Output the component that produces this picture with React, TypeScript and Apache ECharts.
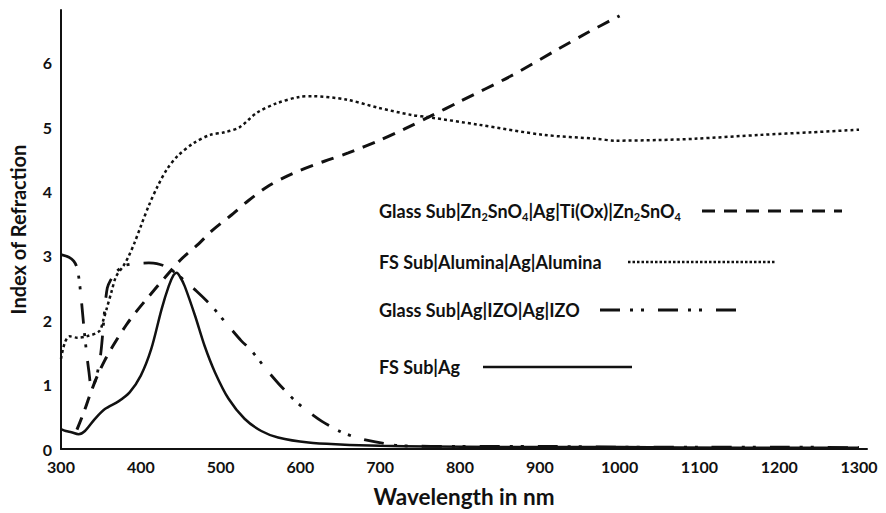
import React, { useEffect, useRef } from "react";
import * as echarts from "echarts";

const xTicks = [300, 400, 500, 600, 700, 800, 900, 1000, 1100, 1200, 1300];
const yTicks = [0, 1, 2, 3, 4, 5, 6];

const legendLabels = [
  "Glass Sub|Zn{s|2}SnO{s|4}|Ag|Ti(Ox)|Zn{s|2}SnO{s|4}",
  "FS Sub|Alumina|Ag|Alumina",
  "Glass Sub|Ag|IZO|Ag|IZO",
  "FS Sub|Ag",
];

const znsWl = [320, 328, 336, 345, 355, 365, 382, 394, 410, 430, 450, 471, 490, 512, 535, 558, 580, 600, 630, 660, 700, 730, 763, 800, 863, 924, 960, 1000];
const znsVal = [0.30, 0.55, 0.83, 1.12, 1.38, 1.60, 1.93, 2.13, 2.37, 2.66, 2.94, 3.17, 3.40, 3.62, 3.86, 4.07, 4.22, 4.33, 4.47, 4.60, 4.80, 4.97, 5.17, 5.40, 5.79, 6.22, 6.47, 6.73];

const aluWl = [300, 305, 311, 320, 332, 348, 353, 357, 363, 369, 378, 385, 392, 400, 410, 421, 433, 446, 466, 487, 505, 524, 545, 570, 599, 615, 657, 698, 739, 763, 822, 905, 970, 995, 1050, 1094, 1177, 1240, 1300];
const aluVal = [1.40, 1.66, 1.75, 1.73, 1.75, 1.83, 2.00, 2.17, 2.43, 2.68, 2.84, 3.00, 3.20, 3.46, 3.78, 4.08, 4.35, 4.55, 4.75, 4.88, 4.92, 5.00, 5.22, 5.37, 5.47, 5.48, 5.43, 5.30, 5.19, 5.15, 5.04, 4.88, 4.82, 4.79, 4.80, 4.82, 4.88, 4.92, 4.96];

const izoWl = [300, 310, 316, 320, 323, 326, 329, 332, 335, 338, 341, 345, 350, 355, 358, 362, 370, 380, 395, 410, 420, 432, 445, 458, 470, 489, 499, 510, 526, 537, 547, 557, 573, 583, 595, 609, 627, 652, 675, 694, 726, 800, 900, 1000, 1100, 1200, 1300];
const izoVal = [3.02, 2.98, 2.92, 2.82, 2.60, 2.25, 1.85, 1.50, 1.20, 0.98, 1.00, 1.15, 1.50, 2.20, 2.50, 2.62, 2.76, 2.85, 2.88, 2.89, 2.88, 2.83, 2.72, 2.58, 2.45, 2.22, 2.07, 1.91, 1.68, 1.55, 1.40, 1.24, 1.01, 0.88, 0.73, 0.59, 0.43, 0.26, 0.16, 0.11, 0.05, 0.04, 0.04, 0.03, 0.03, 0.03, 0.02];

const agWl = [300, 306, 313, 322, 330, 342, 355, 372, 386, 400, 413, 426, 435, 441, 445, 449, 455, 468, 480, 493, 510, 530, 551, 572, 610, 650, 700, 760, 850, 1000, 1150, 1300];
const agVal = [0.31, 0.28, 0.26, 0.23, 0.28, 0.46, 0.62, 0.74, 0.88, 1.14, 1.55, 2.17, 2.53, 2.70, 2.74, 2.68, 2.53, 2.07, 1.60, 1.19, 0.78, 0.47, 0.28, 0.18, 0.10, 0.07, 0.05, 0.04, 0.03, 0.03, 0.02, 0.02];

const zip = (a: number[], b: number[]) => a.map((x, i) => [x, b[i]]);

const FONT = "Lato, 'Open Sans', sans-serif";
const INK = "#111";

const dashZns = [13, 9];
const dashAlu = [3, 3];
const dashIzo = [20, 10, 3, 8, 3, 14];

export default function App() {
  const ref = useRef<HTMLDivElement>(null);
  useEffect(() => {
    if (!ref.current) return;
    const chart = echarts.init(ref.current, undefined, { renderer: "svg" });
    const lineSeries = (name: string, data: number[][], type: any, width: number) => ({
      name,
      type: "line",
      data,
      smooth: 0.3,
      showSymbol: false,
      symbol: "none",
      lineStyle: { color: INK, width, type, cap: "butt" },
    });
    const legendRows = [
      { y: 211, x1: 702, x2: 842, dash: dashZns, w: 3 },
      { y: 262, x1: 628, x2: 775, dash: [2.5, 2], w: 2.5 },
      { y: 310, x1: 600, x2: 740, dash: dashIzo, w: 3 },
      { y: 367, x1: 483, x2: 632, dash: null, w: 2.5 },
    ];
    const graphic: any[] = [];
    legendRows.forEach((r, i) => {
      graphic.push({
        type: "text",
        left: 379,
        top: r.y - 11,
        style: {
          text: legendLabels[i],
          font: `bold 18px ${FONT}`,
          fill: INK,
          lineHeight: 22,
          rich: {
            s: { fontSize: 11, fontWeight: "bold", fontFamily: FONT, verticalAlign: "bottom", lineHeight: 22, fill: INK },
          },
        },
      });
      graphic.push({
        type: "line",
        shape: { x1: r.x1, y1: r.y, x2: r.x2, y2: r.y },
        style: { stroke: INK, lineWidth: r.w, lineDash: r.dash || undefined },
      });
    });
    chart.setOption({
      animation: false,
      grid: { left: 59, right: 19, top: 10, bottom: 63, containLabel: false },
      xAxis: {
        type: "value",
        min: 300,
        max: 1310,
        interval: 100,
        name: "Wavelength in nm",
        nameLocation: "middle",
        nameGap: 36,
        nameTextStyle: { fontFamily: FONT, fontWeight: "bold", fontSize: 22.5, color: INK },
        axisLine: { show: true, lineStyle: { color: INK, width: 2 } },
        axisTick: { show: false },
        splitLine: { show: false },
        axisLabel: {
          margin: 9,
          fontFamily: FONT,
          fontWeight: "bold",
          fontSize: 16,
          color: INK,
          formatter: (v: number) => (xTicks.includes(v) ? String(v) : ""),
        },
      },
      yAxis: {
        type: "value",
        min: 0,
        max: 6.82,
        interval: 1,
        name: "Index of Refraction",
        nameLocation: "middle",
        nameGap: 33,
        nameTextStyle: { fontFamily: FONT, fontWeight: "bold", fontSize: 20, color: INK },
        axisLine: { show: true, lineStyle: { color: INK, width: 2 } },
        axisTick: { show: false },
        splitLine: { show: false },
        axisLabel: {
          margin: 9,
          fontFamily: FONT,
          fontWeight: "bold",
          fontSize: 16,
          color: INK,
          formatter: (v: number) => (yTicks.includes(v) ? String(v) : ""),
        },
      },
      series: [
        lineSeries("Glass Sub|Zn2SnO4|Ag|Ti(Ox)|Zn2SnO4", zip(znsWl, znsVal), dashZns, 3),
        lineSeries("FS Sub|Alumina|Ag|Alumina", zip(aluWl, aluVal), dashAlu, 2.5),
        lineSeries("Glass Sub|Ag|IZO|Ag|IZO", zip(izoWl, izoVal), dashIzo, 2.8),
        lineSeries("FS Sub|Ag", zip(agWl, agVal), "solid", 2.5),
      ],
      graphic,
    });
    return () => chart.dispose();
  }, []);
  return <div ref={ref} style={{ width: 886, height: 513, position: "absolute", left: 0, top: 0, background: "#fff" }} />;
}
